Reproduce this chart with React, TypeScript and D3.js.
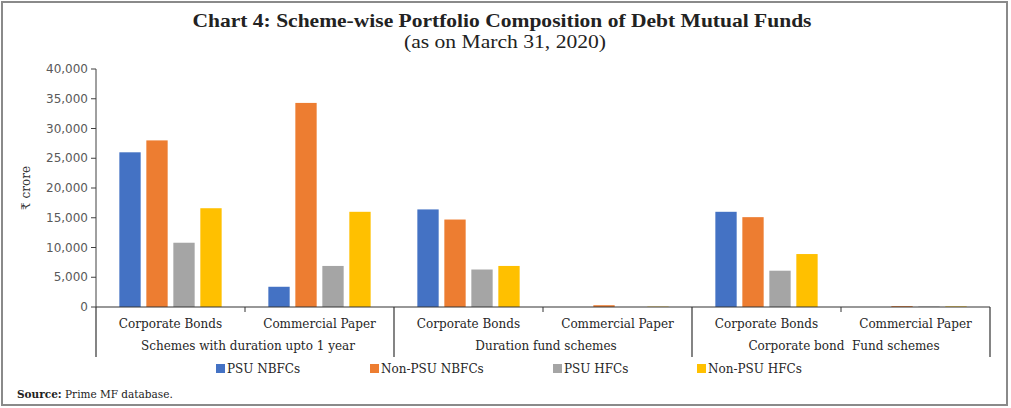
import React from "react";
import * as d3 from "d3";

const categories = ["Corporate Bonds", "Commercial Paper", "Corporate Bonds", "Commercial Paper", "Corporate Bonds", "Commercial Paper"];
const groups = ["Schemes with duration upto 1 year", "Duration fund schemes", "Corporate bond  Fund schemes"];
const seriesNames = ["PSU NBFCs", "Non-PSU NBFCs", "PSU HFCs", "Non-PSU HFCs"];
const psuNbfcs = [26000, 3400, 16400, 0, 16000, 0];
const nonPsuNbfcs = [28000, 34300, 14700, 300, 15100, 150];
const psuHfcs = [10800, 6900, 6300, 0, 6100, 80];
const nonPsuHfcs = [16600, 16000, 6900, 60, 8900, 100];
const yTicks = [0, 5000, 10000, 15000, 20000, 25000, 30000, 35000, 40000];
const colors = ["#4472C4", "#ED7D31", "#A5A5A5", "#FFC000"];

const W = 1011;
const H = 408;
const left = 96;
const right = 990;
const top = 69;
const bottom = 307;

export default function App() {
  const seriesValues = [psuNbfcs, nonPsuNbfcs, psuHfcs, nonPsuHfcs];
  const idx = categories.map((_, i) => i);
  const x0 = d3.scaleBand<number>().domain(idx).range([left, right]).paddingInner(0).paddingOuter(0);
  const x1 = d3.scaleBand<number>().domain(seriesNames.map((_, i) => i)).range([0, x0.bandwidth()]).paddingInner(0.21).paddingOuter(0.865);
  const y = d3.scaleLinear().domain([0, 40000]).range([bottom, top]);
  const fmt = d3.format(",");
  const groupW = x0.bandwidth() * 2;
  const serif = "'DejaVu Serif', serif";
  const legendX = [216, 370, 553, 697];

  return (
    <div style={{ position: "absolute", left: 0, top: 0 }}>
      <svg width={W} height={H} style={{ display: "block" }}>
        <rect x={0} y={0} width={W} height={H} fill="#fff" />
        <rect x={2} y={2} width={1005} height={403} fill="none" stroke="#8a8a8a" strokeWidth={2} />
        <text x={502} y={27} textAnchor="middle" fontFamily="'Liberation Serif', serif" fontWeight="bold" fontSize={18} fill="#222" textLength={619} lengthAdjust="spacingAndGlyphs">
          Chart 4: Scheme-wise Portfolio Composition of Debt Mutual Funds
        </text>
        <text x={505} y={48} textAnchor="middle" fontFamily="'Liberation Serif', serif" fontSize={18} fill="#222" textLength={202} lengthAdjust="spacingAndGlyphs">
          (as on March 31, 2020)
        </text>

        {/* y axis */}
        <line x1={left} x2={left} y1={top} y2={bottom} stroke="#404040" strokeWidth={1} />
        {yTicks.map((t) => (
          <g key={t}>
            <line x1={left - 5} x2={left} y1={y(t)} y2={y(t)} stroke="#404040" />
            <text x={left - 8} y={y(t)} dy="0.35em" textAnchor="end" fontFamily="'DejaVu Sans', sans-serif" fontSize={12} fill="#595959">
              {fmt(t)}
            </text>
          </g>
        ))}
        <text transform={`translate(30,${(top + bottom) / 2}) rotate(-90)`} textAnchor="middle" fontFamily={serif} fontSize={12} fill="#333">
          ₹ crore
        </text>

        {/* bars */}
        {seriesValues.map((vals, s) =>
          vals.map((v, i) => (
            <rect key={`${s}-${i}`} x={(x0(i) as number) + (x1(s) as number)} y={y(v)} width={x1.bandwidth()} height={bottom - y(v)} fill={colors[s]} />
          ))
        )}

        {/* x axis */}
        <line x1={left} x2={right} y1={bottom} y2={bottom} stroke="#333" strokeWidth={1.2} />
        {idx.map((i) =>
          i % 2 === 1 ? (
            <line key={`t${i}`} x1={x0(i) as number} x2={x0(i) as number} y1={bottom} y2={bottom + 5} stroke="#333" />
          ) : null
        )}
        {[0, 1, 2, 3].map((g) => {
          const gx = left + g * groupW;
          return <line key={`g${g}`} x1={gx} x2={gx} y1={bottom} y2={357} stroke="#333" strokeWidth={1.2} />;
        })}
        {categories.map((c, i) => (
          <text key={`c${i}`} x={(x0(i) as number) + x0.bandwidth() / 2} y={328} textAnchor="middle" fontFamily={serif} fontSize={12} fill="#262626">
            {c}
          </text>
        ))}
        {groups.map((g, i) => (
          <text key={`gl${i}`} x={left + groupW * i + groupW / 2 + 3} y={350} textAnchor="middle" fontFamily={serif} fontSize={12} fill="#262626" style={{ whiteSpace: "pre" }}>
            {g}
          </text>
        ))}

        {/* legend */}
        {seriesNames.map((n, s) => (
          <g key={n}>
            <rect x={legendX[s]} y={364} width={9} height={9} fill={colors[s]} />
            <text x={legendX[s] + 11} y={373} fontFamily={serif} fontSize={12} fill="#262626">
              {n}
            </text>
          </g>
        ))}

        <text x={17} y={398} fontFamily={serif} fontSize={10.5} fill="#222">
          <tspan fontWeight="bold">Source:</tspan> Prime MF database.
        </text>
      </svg>
    </div>
  );
}
